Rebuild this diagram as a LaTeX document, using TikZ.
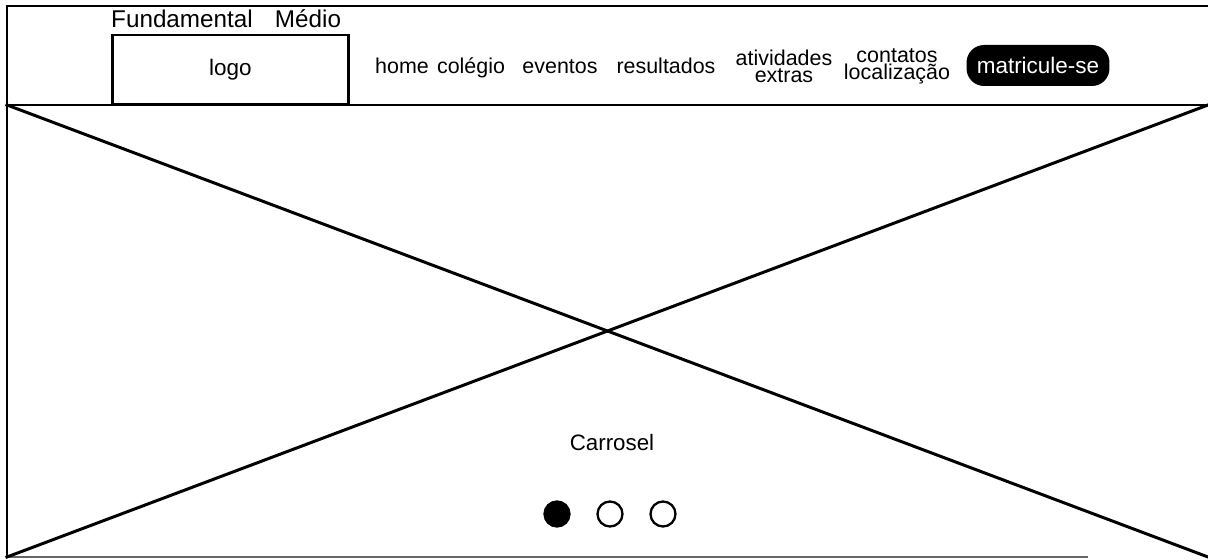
\documentclass[tikz,border=0pt]{standalone}
\usepackage{fontspec}
\setmainfont{Liberation Sans}
\usetikzlibrary{positioning}

\begin{document}
\begin{tikzpicture}[
  x=0.02cm, y=-0.02cm,
  frm/.style={line width=1.7pt, line cap=rect},
  lbl/.style={font=\fontsize{12.2}{9.6}\selectfont, inner sep=0pt, align=center},
  menu/.style={lbl, anchor=base},
  top/.style={font=\fontsize{13.8}{14}\selectfont, inner sep=0pt},
  pill/.style={fill=black, text=white, rounded corners=10pt, minimum width=2.86cm,
               minimum height=0.82cm, font=\fontsize{12.8}{14}\selectfont, inner sep=0pt},
  dot/.style={circle, draw, line width=1.3pt, minimum size=0.5cm, inner sep=0pt}
]
  \useasboundingbox (0,0) rectangle (1208,560);

  % frame corners
  \coordinate (tl) at (7,6);
  \coordinate (tr) at (1208,6);
  \coordinate (hl) at (7,105);
  \coordinate (hr) at (1208,105);
  \coordinate (bl) at (7,557);
  \coordinate (br) at (1208,557);
  \coordinate (be) at (1088,557);

  % header
  \draw[frm] (tr) -- (tl) -- (bl);
  \draw[frm] (hl) -- (hr);
  \draw[gray!80!black, line width=1.3pt] (bl) -- (be);

  % carousel cross
  \draw[frm] (hl) -- (br);
  \draw[frm] (bl) -- (hr);

  % logo
  \node[draw, line width=1.7pt, minimum width=4.74cm, minimum height=1.4cm,
        font=\fontsize{12.8}{14}\selectfont] (logo) at (230.5,70) {logo};
  \node[top] (fund)  at (182,19) {Fundamental};
  \node[top] (medio) at (308,19) {Médio};

  % menu
  \node[menu] (home) at (402,73.5) {home};
  \node[menu] (col)  at (471,73.5) {colégio};
  \node[menu] (evt)  at (560,73.5) {eventos};
  \node[menu] (res)  at (666,73.5) {resultados};
  \node[lbl] (ativ)  at (784,66) {atividades\\extras};
  \node[lbl] (cont)  at (897,66) {contatos\\localização};
  \node[pill] (matr) at (1038,65.5) {matricule-se};

  % carousel
  \node[font=\fontsize{12.7}{14}\selectfont, inner sep=0pt] (car) at (612,443) {Carrosel};
  \node[dot, fill=black] (d1) at (557,514) {};
  \node[dot] (d2) at (610,514) {};
  \node[dot] (d3) at (663,514) {};
\end{tikzpicture}
\end{document}
